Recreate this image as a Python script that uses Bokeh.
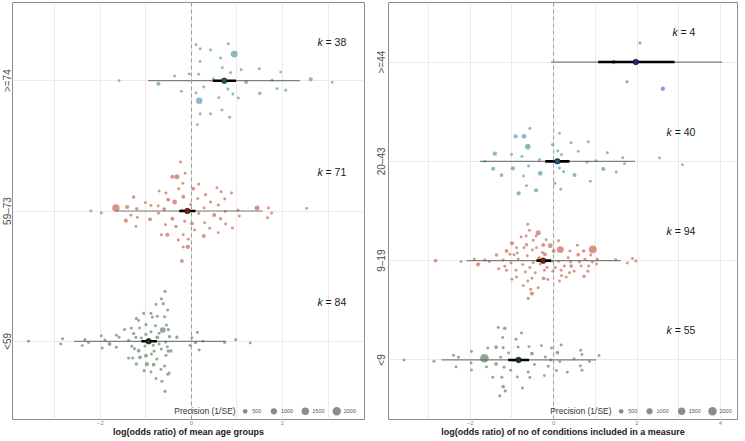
import math
from bokeh.plotting import figure
from bokeh.layouts import row
from bokeh.models import ColumnDataSource, FixedTicker, Span, Label, Range1d
from bokeh.embed import file_html
from bokeh.resources import INLINE

FONT = "Liberation Sans"

# ---------------- data: (log odds ratio, vertical jitter, precision 1/SE) ----------------
age_ge74 = [(-1.59, 0, 80), (-0.725, -0.023, 350), (-0.37, 0.036, 90), (-0.22, -0.082, 90), (-0.05, 0.051, 100),
            (0.10, 0.276, 90), (0.19, 0.245, 110), (0.19, 0.148, 90), (0.16, 0.049, 90), (0.10, -0.094, 100),
            (0.17, -0.153, 1050), (0.27, -0.049, 90), (0.19, -0.253, 110), (0.13, -0.337, 90), (0.42, 0.235, 100),
            (0.42, -0.253, 110), (0.48, 0.013, 90), (0.64, 0.174, 90), (0.68, 0.10, 80), (0.60, -0.13, 90),
            (0.67, -0.225, 90), (0.81, 0.284, 90), (0.94, 0.204, 1250), (0.86, 0.061, 100), (0.80, -0.064, 90),
            (0.91, -0.102, 90), (0.84, -0.281, 100), (1.03, -0.133, 80), (1.09, 0.084, 90), (1.20, -0.01, 350),
            (1.49, 0.092, 90), (1.50, -0.097, 200), (1.77, 0.003, 90), (1.88, -0.061, 100), (1.96, 0.066, 80),
            (2.07, -0.074, 100), (2.62, 0.01, 350), (3.09, -0.013, 70)]

age_59_73 = [(-2.21, 0, 90), (-1.98, -0.015, 100), (-1.66, 0.023, 1500), (-1.41, 0.031, 350), (-1.44, -0.074, 350),
             (-1.33, -0.033, 100), (-1.27, 0.107, 200), (-1.20, 0.018, 200), (-1.19, -0.049, 100), (-1.22, -0.118, 100),
             (-1.01, 0.064, 100), (-0.89, 0.043, 100), (-0.91, -0.064, 300), (-0.725, -0.018, 100), (-0.71, 0.153, 100),
             (-0.60, 0.013, 300), (-0.66, -0.182, 100), (-0.56, 0.138, 100), (-0.57, -0.105, 100), (-0.53, -0.182, 350),
             (-0.51, 0.087, 300), (-0.42, 0.263, 300), (-0.32, 0.263, 600), (-0.42, -0.059, 300), (-0.37, 0.069, 550),
             (-0.34, -0.118, 200), (-0.24, 0.376, 100), (-0.28, 0.171, 100), (-0.19, 0.212, 100), (-0.18, 0.110, 300),
             (-0.14, 0.289, 100), (-0.205, 0.005, 100), (-0.15, -0.079, 100), (-0.18, -0.182, 100), (-0.29, -0.223, 100),
             (-0.18, -0.276, 100), (-0.08, -0.276, 400), (-0.21, -0.384, 300), (-0.07, -0.217, 100), (-0.02, 0.049, 100),
             (0.01, -0.095, 250), (0.04, 0.171, 250), (0.07, -0.146, 100), (0.16, 0.205, 100), (0.14, 0.095, 100),
             (0.16, -0.020, 100), (0.28, 0.023, 100), (0.27, -0.192, 300), (0.31, 0.125, 150), (0.29, -0.090, 100),
             (0.40, -0.133, 100), (0.42, 0.069, 150), (0.50, -0.031, 300), (0.56, 0.179, 100), (0.59, 0.046, 150),
             (0.59, -0.166, 100), (0.64, -0.059, 150), (0.65, 0.148, 100), (0.73, 0.092, 100), (0.74, -0.003, 100),
             (0.75, -0.100, 100), (0.88, 0.138, 100), (0.90, -0.130, 100), (1.02, 0.005, 100), (1.05, -0.038, 100),
             (1.44, 0.023, 600), (1.67, -0.051, 100), (1.69, 0.023, 100), (1.76, -0.015, 100), (2.53, 0.020, 80),
             (-0.73, 0.038, 100)]

age_lt59 = [(-3.58, 0, 100), (-2.83, 0.020, 120), (-2.87, -0.020, 100), (-2.40, -0.033, 100), (-2.34, 0.013, 120),
            (-2.26, -0.010, 100), (-1.98, 0.043, 100), (-1.96, -0.051, 100), (-1.90, 0.010, 100), (-1.80, -0.020, 300),
            (-1.65, 0.046, 100), (-1.65, -0.046, 100), (-1.59, 0.031, 100), (-1.47, 0.090, 120), (-1.38, 0.008, 120),
            (-1.38, -0.128, 150), (-1.32, 0.102, 120), (-1.27, 0.059, 150), (-1.25, -0.056, 120), (-1.29, -0.128, 150),
            (-1.21, 0.176, 120), (-1.16, 0.159, 100), (-1.22, 0.031, 120), (-1.16, -0.072, 250), (-1.21, -0.174, 150),
            (-1.14, 0.102, 100), (-1.13, -0.123, 250), (-1.05, 0.215, 120), (-1.00, 0.128, 120), (-1.00, 0.054, 150),
            (-1.02, -0.036, 120), (-1.00, -0.110, 300), (-0.98, -0.176, 400), (-1.04, -0.225, 120), (-0.89, 0.215, 120),
            (-0.86, 0.187, 120), (-0.89, 0.074, 120), (-0.84, -0.031, 120), (-0.88, -0.097, 120), (-0.89, -0.235, 100),
            (-0.83, -0.179, 300), (-0.79, 0.120, 100), (-0.78, 0.284, 120), (-0.75, 0.192, 120), (-0.75, 0.031, 250),
            (-0.76, -0.136, 120), (-0.78, -0.286, 120), (-0.71, -0.020, 100), (-0.67, -0.217, 100), (-0.66, 0.327, 120),
            (-0.62, 0.289, 120), (-0.66, -0.059, 120), (-0.65, -0.307, 120), (-0.63, 0.087, 800), (-0.59, 0.189, 120),
            (-0.58, 0.384, 150), (-0.58, -0.384, 150), (-0.57, -0.005, 120), (-0.56, -0.107, 120), (-0.59, -0.189, 120),
            (-0.55, 0.125, 120), (-0.52, 0.240, 120), (-0.51, 0.090, 150), (-0.51, -0.074, 200), (-0.45, -0.074, 200),
            (-0.52, -0.253, 120), (-0.49, -0.243, 120), (-0.48, 0.036, 200), (-0.32, 0.031, 200), (0.01, 0.028, 120),
            (-0.03, -0.031, 120), (0.09, -0.010, 200), (0.13, 0.069, 120), (0.17, -0.066, 100), (0.25, 0, 100),
            (0.73, -0.008, 120), (0.97, 0.013, 120), (1.29, -0.013, 90), (-1.31, -0.038, 100), (-1.10, 0.026, 100),
            (-0.93, 0.005, 120), (-0.71, 0.061, 100), (-0.53, -0.041, 100), (-0.82, -0.077, 100)]

cond_ge44 = [(2.07, 0.191, 100), (1.44, 0, 400), (1.76, -0.198, 120), (2.62, -0.269, 400)]

cond_20_43 = [(-1.65, 0, 100), (-1.45, -0.074, 350), (-1.41, 0.077, 400), (-1.25, -0.138, 250), (-1.01, 0.070, 100),
              (-0.98, -0.070, 400), (-0.91, 0.252, 350), (-0.84, -0.322, 400), (-0.76, 0.050, 100), (-0.72, -0.148, 100),
              (-0.71, 0.252, 550), (-0.62, 0.148, 800), (-0.60, -0.047, 100), (-0.65, -0.245, 100), (-0.57, 0.332, 100),
              (-0.42, -0.292, 350), (-0.34, 0.017, 100), (-0.32, -0.121, 550), (-0.03, 0.168, 100), (0.03, -0.221, 100),
              (0.10, 0.104, 100), (0.14, 0.282, 100), (0.14, -0.067, 100), (0.19, 0.067, 100), (0.17, -0.282, 100),
              (0.24, -0.104, 100), (0.42, 0.188, 100), (0.50, -0.138, 350), (0.59, 0.101, 80), (0.80, -0.010, 100),
              (0.83, 0.198, 100), (0.88, -0.201, 100), (1.02, 0.007, 100), (1.19, -0.077, 350), (1.29, 0.087, 100),
              (1.50, -0.107, 100), (1.66, 0.037, 100), (1.70, -0.023, 80), (2.54, 0.034, 80), (3.09, -0.034, 70)]

cond_9_19 = [(-2.83, 0, 250), (-2.22, -0.010, 100), (-1.90, 0.013, 100), (-1.81, -0.037, 350), (-1.65, 0.007, 100),
             (-1.54, -0.010, 100), (-1.37, 0.057, 200), (-1.32, -0.081, 100), (-1.21, 0.007, 100), (-1.17, -0.057, 100),
             (-1.13, 0.097, 300), (-1.13, -0.097, 100), (-1.00, 0.174, 350), (-1.05, 0.064, 100), (-1.02, -0.023, 100),
             (-1.00, -0.188, 100), (-0.89, -0.164, 100), (-0.90, -0.097, 100), (-0.89, 0.131, 100), (-0.87, 0.077, 100),
             (-0.85, 0.017, 100), (-0.78, 0.238, 100), (-0.74, -0.040, 100), (-0.73, -0.252, 100), (-0.71, 0.131, 100),
             (-0.68, -0.114, 100), (-0.66, 0.248, 100), (-0.65, 0.161, 200), (-0.63, 0.050, 100), (-0.62, 0.366, 100),
             (-0.62, -0.205, 100), (-0.61, -0.379, 150), (-0.58, 0.305, 100), (-0.57, -0.070, 100), (-0.55, -0.289, 120),
             (-0.52, -0.332, 350), (-0.51, 0.107, 100), (-0.52, -0.178, 100), (-0.49, 0.205, 100), (-0.49, -0.020, 100),
             (-0.44, -0.121, 100), (-0.42, 0.248, 100), (-0.41, 0.131, 100), (-0.37, 0.282, 600), (-0.37, -0.272, 100),
             (-0.34, 0.030, 100), (-0.32, -0.034, 100), (-0.27, 0.081, 100), (-0.25, 0.158, 300), (-0.24, -0.178, 250),
             (-0.22, -0.097, 100), (-0.21, 0.064, 300), (-0.18, 0.211, 100), (-0.16, -0.070, 100), (-0.14, -0.191, 100),
             (-0.08, 0.151, 550), (-0.04, -0.007, 100), (-0.02, -0.107, 100), (0.00, 0.097, 300), (0.12, -0.007, 100),
             (0.12, 0.201, 100), (0.14, -0.205, 100), (0.16, 0.111, 1300), (0.18, -0.097, 100), (0.19, -0.151, 100),
             (0.26, -0.054, 100), (0.30, -0.164, 100), (0.35, 0.030, 100), (0.39, 0.097, 100), (0.41, -0.013, 100),
             (0.42, -0.054, 250), (0.49, -0.107, 100), (0.57, 0.154, 100), (0.59, 0.060, 250), (0.62, -0.013, 100),
             (0.66, -0.054, 100), (0.72, 0.097, 200), (0.73, -0.158, 200), (0.75, 0.013, 100), (0.82, -0.107, 100),
             (0.84, -0.054, 100), (0.89, 0.057, 100), (0.94, 0.114, 1700), (0.93, -0.013, 100), (1.03, -0.034, 100),
             (1.05, 0.013, 100), (1.49, 0.010, 100), (1.77, -0.023, 100), (1.89, 0.023, 100), (1.97, -0.003, 100),
             (-0.95, 0.060, 100), (-0.37, 0.020, 100), (0.04, -0.070, 100), (0.38, -0.121, 100)]

cond_lt9 = [(-3.59, 0, 100), (-2.87, -0.013, 100), (-2.40, 0.047, 100), (-2.28, 0.027, 100), (-2.34, -0.070, 100),
            (-1.97, 0.084, 100), (-1.98, -0.030, 100), (-1.97, -0.101, 100), (-1.66, 0.017, 2100), (-1.61, -0.070, 100),
            (-1.58, 0.121, 100), (-1.46, -0.174, 100), (-1.38, 0.128, 250), (-1.38, -0.040, 250), (-1.33, 0.326, 100),
            (-1.27, 0.027, 100), (-1.24, -0.174, 100), (-1.22, 0.225, 100), (-1.21, 0.124, 120), (-1.21, -0.268, 250),
            (-1.17, 0.319, 250), (-1.19, -0.074, 100), (-1.16, -0.312, 120), (-1.29, -0.362, 120), (-1.08, 0.070, 100),
            (-1.03, -0.104, 100), (-0.96, -0.007, 100), (-0.90, 0.208, 100), (-0.87, -0.171, 100), (-0.85, 0.131, 100),
            (-0.77, 0.272, 100), (-0.75, -0.282, 100), (-0.61, -0.121, 100), (-0.59, 0.134, 100), (-0.57, -0.178, 100),
            (-0.52, 0.064, 250), (-0.46, -0.047, 100), (-0.29, 0.144, 100), (-0.22, -0.158, 100), (-0.20, 0.030, 100),
            (-0.13, -0.064, 100), (-0.05, 0.121, 100), (0.07, -0.107, 100), (0.09, 0.074, 250), (0.15, -0.017, 100),
            (0.18, 0.151, 100), (0.33, -0.124, 100), (0.49, 0.010, 100), (0.65, 0.097, 100), (0.68, 0.054, 100),
            (0.64, -0.060, 100), (0.68, -0.104, 100), (0.86, -0.017, 100), (1.09, 0.044, 100), (-0.07, 0, 100)]

age_labels = ["<59", "59\u201373", ">=74"]
age_k = [84, 71, 38]
age_mean = [-0.94, -0.09, 0.72]
age_ci_low = [-1.10, -0.27, 0.47]
age_ci_high = [-0.76, 0.09, 0.98]
age_pi_low = [-2.58, -1.66, -0.95]
age_pi_high = [0.75, 1.56, 2.38]

cond_labels = ["<9", "9\u201319", "20\u201343", ">=44"]
cond_k = [55, 94, 40, 4]
cond_mean = [-0.84, -0.25, 0.09, 1.97]
cond_ci_low = [-1.09, -0.41, -0.20, 1.07]
cond_ci_high = [-0.59, -0.06, 0.38, 2.90]
cond_pi_low = [-2.69, -2.09, -1.77, -0.06]
cond_pi_high = [1.02, 1.61, 1.95, 4.04]

legend_prec = [500, 1000, 1500, 2000]

GREEN = ("#86a18a", "#123d1a")
SALMON = ("#d48a78", "#8a1c0c")
TEAL = ("#7db0bc", "#17606d")
PURPLE = ("#a27bd3", "#3f1880")


def psize(prec):
    return math.sqrt(5.5 + 0.033 * prec)


def panel(frame_w, min_left, standoff, x_start, x_end, y_end, xticks, xminor, labels, groups, colors,
          ks, mean, cil, cih, pil, pih, xlabel, leg_x, leg_y, leg_title_x):
    p = figure(title=None, frame_width=frame_w, frame_height=417,
               x_range=Range1d(x_start, x_end), y_range=Range1d(0.4, y_end),
               output_backend="svg", toolbar_location=None,
               min_border_left=min_left, min_border_right=4, min_border_top=2, min_border_bottom=0)
    p.background_fill_color = "white"
    p.border_fill_color = "white"
    p.outline_line_color = "#8c8c8c"
    p.outline_line_width = 1

    cats = list(range(1, len(labels) + 1))

    p.xaxis.ticker = FixedTicker(ticks=xticks, minor_ticks=xminor)
    p.xgrid.ticker = FixedTicker(ticks=xticks, minor_ticks=xminor)
    p.xgrid.grid_line_color = "#ebebeb"
    p.xgrid.minor_grid_line_color = "#ebebeb"
    p.yaxis.ticker = FixedTicker(ticks=cats)
    p.ygrid.ticker = FixedTicker(ticks=cats)
    p.ygrid.grid_line_color = "#ebebeb"
    p.yaxis.major_label_overrides = {c: lab for c, lab in zip(cats, labels)}
    p.yaxis.major_label_orientation = "vertical"

    for ax in (p.xaxis[0], p.yaxis[0]):
        ax.axis_line_color = None
        ax.minor_tick_line_color = None
        ax.minor_tick_out = 0
        ax.minor_tick_in = 0
        ax.major_tick_in = 0
    p.yaxis.major_tick_out = 0
    p.yaxis.major_label_standoff = standoff
    p.yaxis.major_label_text_font = FONT
    p.yaxis.major_label_text_font_size = "10px"
    p.yaxis.major_label_text_color = "#4d4d4d"
    p.xaxis.major_tick_out = 0
    p.xaxis.major_label_standoff = 1
    p.xaxis.major_label_text_font = FONT
    p.xaxis.major_label_text_font_size = "6px"
    p.xaxis.major_label_text_color = "#8a8a8a"
    p.xaxis.axis_label = xlabel
    p.xaxis.axis_label_standoff = -1
    p.xaxis.axis_label_text_font = FONT
    p.xaxis.axis_label_text_font_size = "9px"
    p.xaxis.axis_label_text_font_style = "bold"
    p.xaxis.axis_label_text_color = "#1a1a1a"

    p.add_layout(Span(location=0, dimension="height", line_color="#9a9a9a", line_dash="4 3", line_width=1))

    for c, pts, col in zip(cats, groups, colors):
        src = ColumnDataSource(dict(x=[t[0] for t in pts], y=[c + t[1] for t in pts],
                                    s=[psize(t[2]) for t in pts]))
        p.scatter("x", "y", size="s", source=src, fill_color=col[0], fill_alpha=0.9, line_color=None)

    p.segment(x0=pil, y0=cats, x1=pih, y1=cats, line_color="#5a5a5a", line_width=1.2, line_alpha=0.75)
    p.segment(x0=cil, y0=cats, x1=cih, y1=cats, line_color="black", line_width=2.6)
    p.scatter(mean, cats, size=5.5, fill_color=[col[1] for col in colors], line_color="black", line_width=0.6)

    for c, k in zip(cats, ks):
        rest = "= %d" % k
        p.add_layout(Label(x=3.4, y=c + 0.3, text=rest, text_align="right", text_baseline="middle",
                           text_font=FONT, text_font_size="10.5px", text_color="#1a1a1a"))
        off = -(6.1 + 2.9 * 2 + 5.84 * len(str(k)))
        p.add_layout(Label(x=3.4, y=c + 0.3, x_offset=off, text="k", text_align="right", text_baseline="middle",
                           text_font=FONT, text_font_size="10.5px", text_font_style="italic", text_color="#1a1a1a"))

    # precision legend
    p.scatter(leg_x, [leg_y] * len(leg_x), size=[psize(v) for v in legend_prec],
              fill_color="#8c8c8c", line_color=None)
    for lx, v in zip(leg_x, legend_prec):
        p.add_layout(Label(x=lx, y=leg_y, x_offset=7, text=str(v), text_baseline="middle",
                           text_font=FONT, text_font_size="5.5px", text_color="#555555"))
    p.add_layout(Label(x=leg_title_x, y=leg_y, text="Precision (1/SE)", text_align="right", text_baseline="middle",
                       text_font=FONT, text_font_size="8.5px", text_color="#333333"))
    return p


p1 = panel(352, 0, 0, -3.93, 3.8, 3.6, [-2, 0, 2], [-3, -1, 1, 3], age_labels,
           [age_lt59, age_59_73, age_ge74], [GREEN, SALMON, TEAL],
           age_k, age_mean, age_ci_low, age_ci_high, age_pi_low, age_pi_high,
           "log(odds ratio) of mean age groups", [1.18, 1.81, 2.50, 3.19], 0.463, 0.97)

p2 = panel(349, 20, 1, -3.96, 4.41, 4.6, [-2, 0, 2, 4], [-3, -1, 1, 3], cond_labels,
           [cond_lt9, cond_9_19, cond_20_43, cond_ge44], [GREEN, SALMON, TEAL, PURPLE],
           cond_k, cond_mean, cond_ci_low, cond_ci_high, cond_pi_low, cond_pi_high,
           "log(odds ratio) of no of conditions included in a measure", [1.62, 2.30, 3.07, 3.81], 0.483, 1.39)

layout = row(p1, p2)
layout.styles = {"margin-left": "-2px"}

open("out.html", "w").write(file_html(layout, INLINE))
